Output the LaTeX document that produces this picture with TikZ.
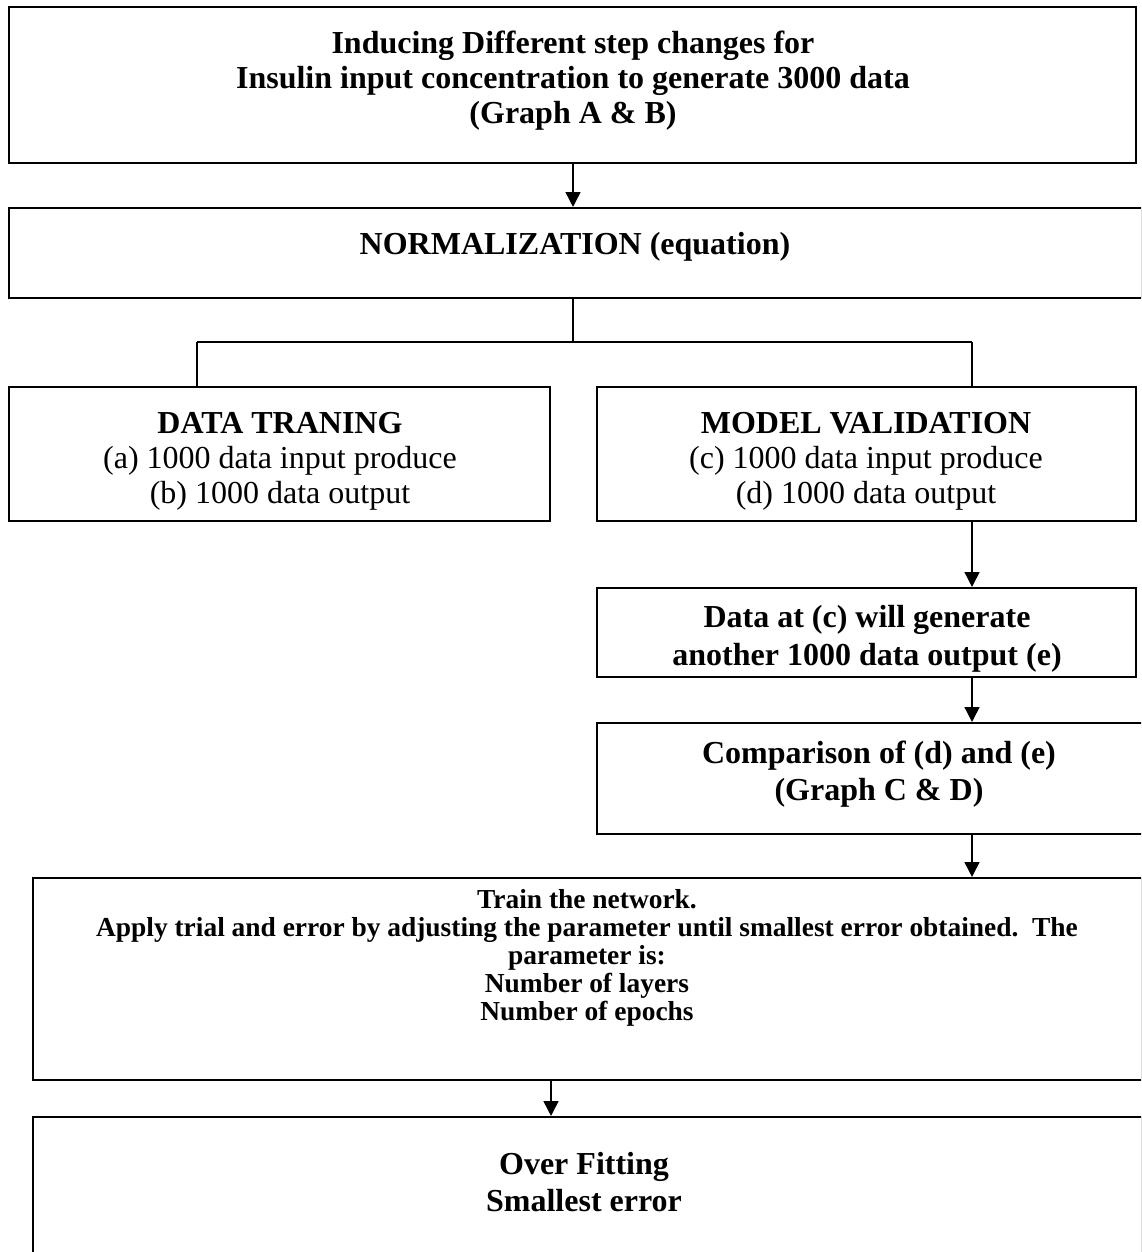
\documentclass[tikz,border=0pt]{standalone}
\usepackage{fontspec}
\setmainfont{Liberation Serif}
\usetikzlibrary{arrows.meta,fit}
\begin{document}
\begin{tikzpicture}[x=0.4375pt,y=-0.4375pt,
  framebox/.style={draw,line width=0.9pt,inner sep=0pt},
  conn/.style={line width=0.7pt},
  arr/.style={conn,-{Triangle[length=6.5pt,width=6.5pt]}},
  big/.style={font=\fontsize{14}{15.3}\selectfont,align=center,inner sep=0pt},
  bigb/.style={font=\fontsize{14}{15.3}\selectfont\bfseries,align=center,inner sep=0pt},
  bigw/.style={font=\fontsize{14}{16.5}\selectfont\bfseries,align=center,inner sep=0pt},
  small/.style={font=\fontsize{12}{12.25}\selectfont\bfseries,align=center,inner sep=0pt}]
\useasboundingbox (0,0) rectangle (1141,1252);
\fill[white] (0,0) rectangle (1141,1252);
\clip (0,0) rectangle (1141,1252);
% boxes
\node[framebox,fit={(9,7) (1136,163)}] (b1) {};
\node[framebox,fit={(9,208) (1142,298)}] (b2) {};
\node[framebox,fit={(9,387) (550,521)}] (b3) {};
\node[framebox,fit={(597,387) (1136,521)}] (b4) {};
\node[framebox,fit={(597,588) (1136,677)}] (b5) {};
\node[framebox,fit={(597,723) (1161,834)}] (b6) {};
\node[framebox,fit={(33,878) (1142,1080)}] (b7) {};
\node[framebox,fit={(33,1117) (1142,1300)}] (b8) {};
% texts
\node[bigb] (t1) at (573,81) {Inducing Different step changes for\\Insulin input concentration to generate 3000 data\\(Graph A \& B)};
\node[bigb] (t2) at (575,247) {NORMALIZATION (equation)};
\node[big] (t3) at (280,461) {\textbf{DATA TRANING}\\(a) 1000 data input produce\\(b) 1000 data output};
\node[big] (t4) at (866,461) {\textbf{MODEL VALIDATION}\\(c) 1000 data input produce\\(d) 1000 data output};
\node[bigw] (t5) at (867,639) {Data at (c) will generate\\another 1000 data output (e)};
\node[bigw] (t6) at (879,774) {Comparison of (d) and (e)\\(Graph C \& D)};
\node[small] (t7) at (587,958) {Train the network.\\Apply trial and error by adjusting the parameter until smallest error obtained.\ \ The\\parameter is:\\Number of layers\\Number of epochs};
\node[bigb,font=\fontsize{14}{16.2}\selectfont\bfseries] (t8) at (584,1182) {Over Fitting\\Smallest error};
% connector helper coordinates
\coordinate (xa) at (573,0);
\coordinate (xl) at (197,0);
\coordinate (xr) at (972,0);
\coordinate (xb) at (551,0);
\coordinate (yj) at (0,342);
% connectors
\draw[arr] (b1.south -| xa) -- (b2.north -| xa);
\draw[conn] (b2.south -| xa) -- (yj -| xa);
\draw[conn] (yj -| xl) -- (yj -| xr);
\draw[conn] (yj -| xl) -- (b3.north -| xl);
\draw[conn] (yj -| xr) -- (b4.north -| xr);
\draw[arr] (b4.south -| xr) -- (b5.north -| xr);
\draw[arr] (b5.south -| xr) -- (b6.north -| xr);
\draw[arr] (b6.south -| xr) -- (b7.north -| xr);
\draw[arr] (b7.south -| xb) -- (b8.north -| xb);
\end{tikzpicture}
\end{document}
